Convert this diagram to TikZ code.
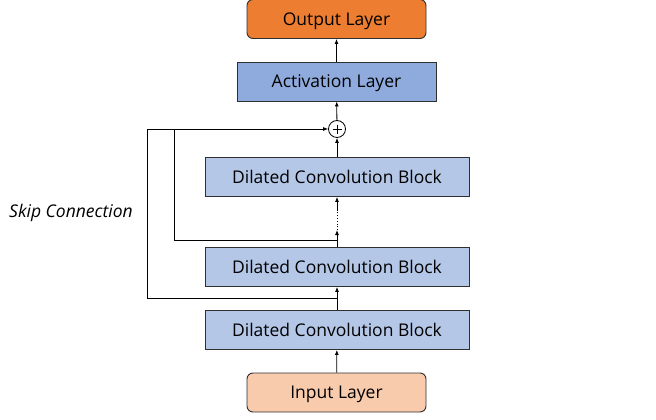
\documentclass[tikz,border=0pt]{standalone}
\usepackage{fontspec}
\setmainfont{Open Sans}
\usetikzlibrary{arrows.meta,calc}
\definecolor{outfill}{HTML}{ED7D31}
\definecolor{actfill}{HTML}{8FAADC}
\definecolor{convfill}{HTML}{B4C7E7}
\definecolor{infill}{HTML}{F8CBAD}
\definecolor{edge}{HTML}{2F2F2F}
\begin{document}
\begin{tikzpicture}[x=1pt,y=-1pt,
  box/.style={draw=edge,line width=0.9pt,minimum height=39pt,inner sep=0pt,
    text height=12.5pt,text depth=0pt,font=\fontsize{17.5}{20}\selectfont},
  conv/.style={box,fill=convfill,minimum width=264pt},
  layer/.style={box,rounded corners=6pt,minimum width=179pt},
  arr/.style={line width=0.8pt,-{Latex[length=5pt,width=4pt]}},
  ln/.style={line width=0.8pt}]
\useasboundingbox (0,0) rectangle (656,420);
% main column
\node[layer,fill=outfill] (out) at (336.5,19) {Output Layer};
\node[box,fill=actfill,minimum width=199pt] (act) at (336.5,81.5) {Activation Layer};
\node[draw=black,circle,line width=0.8pt,minimum size=17pt,inner sep=0pt,fill=white] (sum) at (337,129) {};
\draw[line width=0.7pt] ($(sum.center)+(-4.5,0)$) -- ++(9,0) ($(sum.center)+(0,-4.5)$) -- ++(0,9);
\node[conv] (c1) at (337,177) {Dilated Convolution Block};
\node[conv] (c2) at (337,267) {Dilated Convolution Block};
\node[conv] (c3) at (337,330) {Dilated Convolution Block};
\node[layer,fill=infill] (in) at (336.5,392.5) {Input Layer};
% junction points on the trunk
\coordinate (j2) at (337,240);
\coordinate (j3) at (337,298);
\coordinate (d1) at (337,230);
\coordinate (d2) at (337,210);
% vertical flow
\draw[arr] (in) -- (c3);
\draw[arr] (c3) -- (c2);
\draw[arr] (c2) -- (d1);
\draw[ln,dotted] (d1) -- (d2);
\draw[arr] (d2) -- (c1);
\draw[arr] (c1) -- (sum);
\draw[arr] (sum) -- (act);
\draw[arr] (act) -- (out);
% skip connections
\coordinate (o1) at (147,298);
\coordinate (o2) at (147,129);
\coordinate (i1) at (174,240);
\coordinate (i2) at (174,129);
\draw[ln] (j3) -- (o1) -- (o2);
\draw[ln] (j2) -- (i1) -- (i2);
\draw[arr] (o2) -- (sum);
\node[font=\fontsize{17.5}{20}\selectfont\itshape] (skip) at (71,213) {Skip Connection};
\end{tikzpicture}
\end{document}
